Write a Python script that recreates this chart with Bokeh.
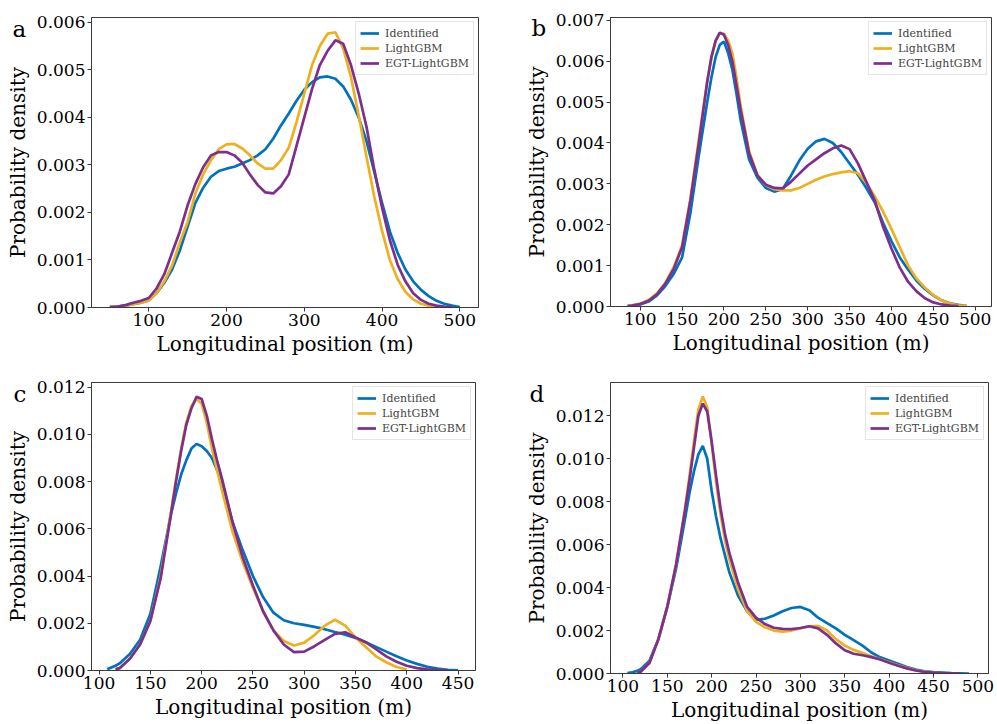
from bokeh.plotting import figure
from bokeh.layouts import column, row
from bokeh.models import Range1d, FixedTicker, NumeralTickFormatter, Label, Legend, LegendItem
from bokeh.embed import file_html
from bokeh.resources import INLINE

# ---------------- data ----------------
series_names = ["Identified", "LightGBM", "EGT-LightGBM"]
series_colors = ["#0072BD", "#EDB120", "#7E2F8E"]

# panel a
a_x = [50, 60, 70, 80, 90, 100, 110, 120, 130, 140, 150, 160, 170, 180, 190, 200, 210, 220, 230, 240,
       250, 260, 270, 280, 290, 300, 310, 320, 330, 340, 350, 360, 370, 380, 390, 400, 410, 420, 430, 440,
       450, 460, 470, 480, 490, 500]
a_identified = [0.00001, 0.00002, 0.00004, 0.00007, 0.0001, 0.00015, 0.0003, 0.00052, 0.0008, 0.0012,
                0.0017, 0.0022, 0.00252, 0.00275, 0.00287, 0.00292, 0.00296, 0.00303, 0.0031, 0.0032,
                0.00333, 0.00355, 0.00383, 0.00408, 0.00435, 0.00458, 0.00474, 0.00484, 0.00486, 0.00481,
                0.00465, 0.00437, 0.0040, 0.0035, 0.00285, 0.0022, 0.0016, 0.00115, 0.0008, 0.00055,
                0.00037, 0.00024, 0.00014, 0.00008, 0.00004, 0.00001]
a_lightgbm = [0.00001, 0.00002, 0.00004, 0.00007, 0.0001, 0.00015, 0.0003, 0.00055, 0.00088, 0.00137,
              0.0018, 0.0024, 0.0028, 0.0031, 0.00333, 0.00343, 0.00344, 0.00335, 0.0032, 0.00303,
              0.00292, 0.00292, 0.0031, 0.00336, 0.0039, 0.0045, 0.0051, 0.0055, 0.00576, 0.00579,
              0.00545, 0.00485, 0.00404, 0.00317, 0.00233, 0.00161, 0.001, 0.0006, 0.00033, 0.00017,
              0.00008, 0.00004, 0.00001, 0.0, None, None]
a_egt = [0.00001, 0.00002, 0.00005, 0.0001, 0.00014, 0.0002, 0.0004, 0.0007, 0.00115, 0.0016,
         0.00215, 0.0026, 0.00295, 0.0032, 0.00327, 0.00327, 0.0032, 0.00305, 0.0028, 0.00258,
         0.00242, 0.0024, 0.00255, 0.0028, 0.0034, 0.004, 0.0046, 0.0051, 0.0054, 0.00562,
         0.00555, 0.0051, 0.0045, 0.0038, 0.0029, 0.0021, 0.00142, 0.0009, 0.00055, 0.0003,
         0.00016, 0.00008, 0.00004, 0.00002, 0.00001, None]
a_yticks = [0.0, 0.001, 0.002, 0.003, 0.004, 0.005, 0.006]
a_xticks = [100, 200, 300, 400, 500]

# panel b
b_x = [85, 90, 100, 110, 120, 130, 140, 150, 160, 170, 180, 185, 190, 195, 200, 205, 210, 215, 220, 230,
       240, 250, 260, 270, 280, 290, 300, 310, 320, 330, 340, 350, 360, 370, 380, 390, 400, 410, 420, 430,
       440, 450, 460, 470, 480, 490]
b_identified = [0.00001, 0.00002, 0.00005, 0.00012, 0.00027, 0.0005, 0.0008, 0.0012, 0.0023, 0.0037,
                0.005, 0.0056, 0.0061, 0.0064, 0.00648, 0.0062, 0.0058, 0.0052, 0.00455, 0.0036,
                0.00315, 0.0029, 0.00281, 0.00287, 0.0032, 0.00357, 0.00386, 0.00404, 0.0041, 0.004,
                0.00378, 0.0035, 0.00322, 0.0029, 0.00255, 0.00205, 0.0016, 0.0012, 0.0009, 0.00063,
                0.00043, 0.00027, 0.00015, 0.00008, 0.00004, 0.00001]
b_lightgbm = [0.00002, 0.00003, 0.00007, 0.00016, 0.00032, 0.00058, 0.00096, 0.0015, 0.00265, 0.0041,
              0.0055, 0.0061, 0.0065, 0.00669, 0.00667, 0.0065, 0.0062, 0.0056, 0.0049, 0.0038,
              0.00322, 0.00297, 0.00287, 0.00284, 0.00284, 0.0029, 0.003, 0.0031, 0.00318, 0.00324,
              0.00328, 0.00331, 0.00326, 0.00302, 0.0027, 0.00232, 0.0019, 0.00145, 0.001, 0.00068,
              0.00046, 0.00028, 0.00015, 0.00007, 0.00003, 0.00001]
b_egt = [0.00001, 0.00002, 0.00006, 0.00014, 0.0003, 0.00056, 0.00092, 0.00145, 0.0026, 0.004,
         0.0055, 0.0061, 0.0065, 0.0067, 0.00665, 0.0064, 0.006, 0.0054, 0.0048, 0.00375,
         0.0032, 0.00298, 0.0029, 0.00289, 0.00305, 0.00325, 0.00345, 0.0036, 0.00375, 0.00387,
         0.00394, 0.00385, 0.0035, 0.00305, 0.0026, 0.00195, 0.00142, 0.00095, 0.0006, 0.00037,
         0.0002, 0.0001, 0.00005, 0.00002, 0.00001, None]
b_yticks = [0.0, 0.001, 0.002, 0.003, 0.004, 0.005, 0.006, 0.007]
b_xticks = [100, 150, 200, 250, 300, 350, 400, 450, 500]

# panel c
c_x = [108, 116, 120, 130, 140, 150, 160, 170, 175, 180, 185, 190, 195, 200, 205, 210, 215, 220, 230, 240,
       250, 260, 270, 280, 290, 300, 310, 320, 330, 340, 350, 360, 370, 380, 390, 400, 410, 420, 430, 440,
       450]
c_identified = [0.00005, 0.0002, 0.0003, 0.0007, 0.0013, 0.0024, 0.0044, 0.0066, 0.0075, 0.0083,
                0.0089, 0.0094, 0.0096, 0.0095, 0.0093, 0.009, 0.0085, 0.0079, 0.0063, 0.0051,
                0.004, 0.0031, 0.00245, 0.00213, 0.002, 0.00193, 0.00185, 0.00175, 0.00163, 0.00152,
                0.00138, 0.0012, 0.001, 0.0008, 0.0006, 0.00042, 0.00028, 0.00016, 0.00008, 0.00003,
                0.00001]
c_lightgbm = [None, 0.00005, 0.0001, 0.0005, 0.0011, 0.0021, 0.004, 0.0067, 0.0081, 0.0094,
              0.0105, 0.0112, 0.0115, 0.0113, 0.0105, 0.0094, 0.0085, 0.0076, 0.0059, 0.0046,
              0.0035, 0.0025, 0.0017, 0.00125, 0.00106, 0.00118, 0.0015, 0.0019, 0.00215, 0.0019,
              0.0014, 0.001, 0.0006, 0.00035, 0.00015, 0.00004, None, None, None, None,
              None]
c_egt = [None, 0.00005, 0.0001, 0.0005, 0.0011, 0.0021, 0.0039, 0.0066, 0.008, 0.0093,
         0.0104, 0.0111, 0.0116, 0.0115, 0.0108, 0.0098, 0.0089, 0.0081, 0.0063, 0.0048,
         0.0036, 0.0025, 0.0017, 0.0011, 0.00078, 0.0008, 0.00103, 0.0013, 0.00155, 0.00162,
         0.0014, 0.0012, 0.0009, 0.0006, 0.00037, 0.0002, 0.0001, 0.00005, 0.00002, 0.00001,
         None]
c_yticks = [0.0, 0.002, 0.004, 0.006, 0.008, 0.010, 0.012]
c_xticks = [100, 150, 200, 250, 300, 350, 400, 450]

# panel d
d_x = [105, 110, 116, 120, 130, 140, 150, 160, 170, 175, 180, 185, 190, 195, 200, 205, 210, 215, 220, 230,
       240, 250, 260, 270, 280, 290, 300, 310, 320, 330, 340, 350, 360, 370, 380, 390, 400, 410, 420, 430,
       440, 450, 460, 470, 480, 490]
d_identified = [0.00002, 0.00005, 0.00012, 0.0002, 0.0006, 0.0016, 0.0031, 0.0049, 0.0072, 0.0084,
                0.0094, 0.0102, 0.0106, 0.01, 0.0085, 0.0073, 0.0063, 0.0055, 0.0047, 0.0036,
                0.0029, 0.0025, 0.00255, 0.0027, 0.0029, 0.00305, 0.0031, 0.00295, 0.0026, 0.00235,
                0.0021, 0.0018, 0.00155, 0.0013, 0.00098, 0.00075, 0.0006, 0.00045, 0.0003, 0.00018,
                0.0001, 0.00006, 0.00004, 0.00002, 0.00001, 0.0]
d_lightgbm = [None, None, 0.00003, 0.00008, 0.0005, 0.0016, 0.0031, 0.0051, 0.0077, 0.0092,
              0.0108, 0.0123, 0.0129, 0.0124, 0.0107, 0.0089, 0.0074, 0.0062, 0.0053, 0.0039,
              0.0029, 0.0024, 0.00215, 0.002, 0.00195, 0.002, 0.0021, 0.0022, 0.00222, 0.002,
              0.0016, 0.0013, 0.0011, 0.00095, 0.0008, 0.00066, 0.00052, 0.00038, 0.00026, 0.00015,
              0.00008, 0.00004, 0.00001, None, None, None]
d_egt = [None, None, 0.00003, 0.00008, 0.0005, 0.0016, 0.0031, 0.0051, 0.0076, 0.009,
         0.0105, 0.012, 0.01257, 0.0122, 0.0108, 0.0092, 0.0077, 0.0065, 0.0056, 0.0042,
         0.0031, 0.0026, 0.0023, 0.00213, 0.00208, 0.00207, 0.00212, 0.0022, 0.0021, 0.0018,
         0.0014, 0.00108, 0.00092, 0.00085, 0.00076, 0.00065, 0.0005, 0.00036, 0.00024, 0.00014,
         0.00007, 0.00004, 0.00002, 0.00001, 0.0, None]
d_yticks = [0.0, 0.002, 0.004, 0.006, 0.008, 0.010, 0.012]
d_xticks = [100, 150, 200, 250, 300, 350, 400, 450, 500]

panel_letters = ["a", "b", "c", "d"]
x_title = "Longitudinal position (m)"
y_title = "Probability density"

FONT = "DejaVu Serif"


def clean(v):
    return [float("nan") if t is None else t for t in v]


def make_panel(letter, xs, ys_list, xr, yr, xticks, yticks, geom, letter_pos):
    bl, fw, br, bt, fh, bb = geom
    p = figure(frame_width=fw, frame_height=fh,
               min_border_left=bl, min_border_right=br,
               min_border_top=bt, min_border_bottom=bb,
               x_range=Range1d(*xr), y_range=Range1d(*yr),
               output_backend="svg", toolbar_location=None)
    p.grid.visible = False
    p.outline_line_color = "#3a3a3a"
    p.outline_line_width = 1

    items = []
    for name, color, ys in zip(series_names, series_colors, ys_list):
        r = p.line(xs, clean(ys), line_color=color, line_width=2.7)
        items.append(LegendItem(label=name, renderers=[r]))

    p.axis.axis_line_color = "#3a3a3a"
    p.axis.major_tick_line_color = "#3a3a3a"
    p.axis.major_tick_out = 4
    p.axis.major_tick_in = 0
    p.axis.minor_tick_line_color = None
    p.axis.major_label_text_font = FONT
    p.axis.major_label_text_color = "black"
    p.axis.major_label_text_font_size = "17px"
    p.axis.axis_label_text_font = FONT
    p.axis.axis_label_text_font_style = "normal"
    p.axis.axis_label_text_color = "black"
    p.axis.axis_label_text_font_size = "20px"

    p.xaxis.ticker = FixedTicker(ticks=xticks)
    p.yaxis.ticker = FixedTicker(ticks=yticks)
    p.yaxis.formatter = NumeralTickFormatter(format="0.000")
    p.xaxis.major_label_standoff = 2
    p.yaxis.major_label_standoff = 2
    p.xaxis.axis_label_standoff = 3
    p.yaxis.axis_label_standoff = 4
    p.xaxis.axis_label = x_title
    p.yaxis.axis_label = y_title

    legend = Legend(items=items, location="top_right", margin=4,
                    padding=4, spacing=1, label_height=14, glyph_height=14, glyph_width=19,
                    label_standoff=6, label_text_font=FONT, label_text_font_size="11px",
                    border_line_color="#cccccc", border_line_width=1,
                    background_fill_color="white", background_fill_alpha=0.9)
    p.add_layout(legend)

    # panel letter: lives in a side panel so it is not clipped to the plot frame
    lx, ly = letter_pos
    p.add_layout(Label(x=lx, y=ly, x_units="canvas", y_units="canvas", text=letter,
                       text_font=FONT, text_font_size="23px", text_color="black",
                       text_baseline="alphabetic", text_align="left"), "right")
    return p


pa = make_panel(panel_letters[0], a_x, [a_identified, a_lightgbm, a_egt], (26.4, 524.0), (0.0, 0.0061),
                a_xticks, a_yticks, (91, 387, 12, 15, 290, 55), (12, 28))
pb = make_panel(panel_letters[1], b_x, [b_identified, b_lightgbm, b_egt], (64.5, 519.5), (0.0, 0.00707),
                b_xticks, b_yticks, (118, 381, 8, 17, 289, 54), (39, 27))
pc = make_panel(panel_letters[2], c_x, [c_identified, c_lightgbm, c_egt], (92.6, 467.0), (0.0, 0.0122),
                c_xticks, c_yticks, (91, 384, 15, 22, 288, 54), (13, 33))
pd_ = make_panel(panel_letters[3], d_x, [d_identified, d_lightgbm, d_egt], (86.0, 512.0), (0.0, 0.01355),
                 d_xticks, d_yticks, (120, 378, 9, 19, 291, 54), (39, 33))

layout = column(row(pa, pb), row(pc, pd_))
open("out.html", "w").write(file_html(layout, INLINE))
